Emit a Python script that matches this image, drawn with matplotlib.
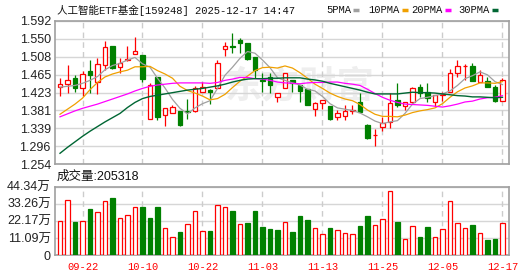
import matplotlib
matplotlib.use("Agg")
import matplotlib.pyplot as plt
from matplotlib.lines import Line2D

plt.rcParams['font.family'] = ['Liberation Sans', 'Noto Sans CJK SC']

# daily candles 2025-09-17 .. 2025-12-17
opens = [1.437, 1.443, 1.458, 1.435, 1.474, 1.449, 1.488, 1.533, 1.484, 1.499,
         1.513, 1.512, 1.360, 1.459, 1.370, 1.374, 1.379, 1.380, 1.380, 1.424,
         1.429, 1.433, 1.526, 1.534, 1.547, 1.539, 1.508, 1.454, 1.459, 1.413,
         1.433, 1.453, 1.441, 1.431, 1.384, 1.398, 1.392, 1.366, 1.368, 1.380,
         1.402, 1.347, 1.322, 1.341, 1.354, 1.406, 1.392, 1.402, 1.436, 1.424,
         1.400, 1.417, 1.425, 1.469, 1.485, 1.486, 1.447, 1.451, 1.437, 1.403]
highs = [1.457, 1.488, 1.465, 1.474, 1.500, 1.504, 1.545, 1.533, 1.504, 1.534,
         1.555, 1.512, 1.445, 1.461, 1.386, 1.393, 1.379, 1.407, 1.439, 1.449,
         1.432, 1.500, 1.543, 1.563, 1.553, 1.539, 1.508, 1.469, 1.470, 1.422,
         1.470, 1.453, 1.441, 1.431, 1.402, 1.406, 1.392, 1.382, 1.394, 1.394,
         1.421, 1.348, 1.337, 1.365, 1.421, 1.445, 1.401, 1.437, 1.443, 1.445,
         1.418, 1.425, 1.479, 1.500, 1.490, 1.492, 1.476, 1.461, 1.441, 1.457]
lows = [1.416, 1.421, 1.425, 1.416, 1.421, 1.419, 1.476, 1.478, 1.469, 1.498,
        1.513, 1.449, 1.360, 1.359, 1.344, 1.374, 1.345, 1.360, 1.377, 1.424,
        1.396, 1.433, 1.510, 1.516, 1.516, 1.500, 1.457, 1.425, 1.421, 1.402,
        1.433, 1.425, 1.402, 1.393, 1.368, 1.384, 1.358, 1.358, 1.358, 1.373,
        1.378, 1.313, 1.298, 1.333, 1.339, 1.390, 1.382, 1.398, 1.413, 1.402,
        1.390, 1.404, 1.425, 1.461, 1.453, 1.451, 1.447, 1.437, 1.400, 1.403]
closes = [1.443, 1.453, 1.433, 1.466, 1.465, 1.490, 1.531, 1.482, 1.494, 1.502,
          1.521, 1.455, 1.441, 1.366, 1.386, 1.389, 1.347, 1.378, 1.433, 1.436,
          1.424, 1.494, 1.532, 1.531, 1.539, 1.502, 1.476, 1.451, 1.441, 1.422,
          1.469, 1.445, 1.427, 1.394, 1.399, 1.406, 1.361, 1.376, 1.380, 1.382,
          1.378, 1.316, 1.324, 1.352, 1.399, 1.394, 1.400, 1.433, 1.421, 1.410,
          1.417, 1.419, 1.470, 1.486, 1.487, 1.451, 1.465, 1.437, 1.404, 1.454]
# volume in 万
volumes = [22.3, 35.7, 21.7, 22.1, 29.9, 27.9, 35.1, 37.2, 23.8, 26.0,
           31.0, 31.2, 24.0, 31.4, 17.3, 11.5, 14.9, 19.9, 28.6, 15.6,
           15.6, 32.3, 31.0, 28.6, 19.9, 20.8, 28.6, 18.4, 16.9, 16.2,
           21.2, 14.9, 25.3, 22.7, 17.3, 13.4, 17.5, 16.2, 14.1, 13.4,
           18.8, 25.3, 19.3, 23.2, 41.4, 21.4, 10.2, 18.6, 11.7, 18.2,
           11.5, 16.7, 35.1, 20.6, 17.3, 19.5, 14.1, 10.0, 10.4, 20.5318]

ma5 = [1.436, 1.438, 1.440, 1.445, 1.452, 1.461, 1.477, 1.487, 1.492, 1.500,
       1.506, 1.491, 1.483, 1.457, 1.434, 1.407, 1.386, 1.373, 1.387, 1.397,
       1.404, 1.433, 1.464, 1.483, 1.504, 1.520, 1.516, 1.500, 1.482, 1.458,
       1.452, 1.446, 1.441, 1.431, 1.427, 1.414, 1.397, 1.387, 1.384, 1.381,
       1.375, 1.366, 1.356, 1.350, 1.354, 1.357, 1.374, 1.396, 1.409, 1.412,
       1.416, 1.420, 1.427, 1.440, 1.456, 1.463, 1.472, 1.465, 1.449, 1.442]
ma10 = [1.372, 1.384, 1.396, 1.410, 1.430, 1.447, 1.460, 1.467, 1.472, 1.476,
        1.484, 1.484, 1.485, 1.475, 1.467, 1.457, 1.438, 1.428, 1.422, 1.415,
        1.406, 1.409, 1.419, 1.435, 1.450, 1.462, 1.475, 1.482, 1.483, 1.481,
        1.486, 1.481, 1.470, 1.457, 1.443, 1.433, 1.422, 1.414, 1.408, 1.404,
        1.395, 1.382, 1.372, 1.367, 1.367, 1.366, 1.370, 1.376, 1.380, 1.383,
        1.387, 1.397, 1.412, 1.425, 1.434, 1.439, 1.446, 1.446, 1.445, 1.449]
ma20 = [1.366, 1.373, 1.380, 1.386, 1.391, 1.396, 1.402, 1.408, 1.414, 1.420,
        1.427, 1.433, 1.438, 1.441, 1.443, 1.445, 1.446, 1.446, 1.446, 1.446,
        1.445, 1.447, 1.452, 1.455, 1.459, 1.459, 1.456, 1.455, 1.452, 1.448,
        1.446, 1.445, 1.444, 1.446, 1.447, 1.447, 1.448, 1.448, 1.445, 1.443,
        1.440, 1.431, 1.421, 1.412, 1.405, 1.400, 1.396, 1.395, 1.394, 1.393,
        1.391, 1.389, 1.392, 1.396, 1.401, 1.403, 1.408, 1.411, 1.412, 1.416]
ma30 = [1.280, 1.294, 1.307, 1.320, 1.332, 1.343, 1.354, 1.364, 1.374, 1.388,
        1.400, 1.409, 1.414, 1.417, 1.420, 1.423, 1.426, 1.429, 1.431, 1.433,
        1.436, 1.439, 1.443, 1.448, 1.452, 1.455, 1.456, 1.456, 1.457, 1.457,
        1.458, 1.458, 1.458, 1.455, 1.453, 1.450, 1.445, 1.441, 1.437, 1.433,
        1.429, 1.424, 1.420, 1.420, 1.420, 1.420, 1.422, 1.424, 1.423, 1.423,
        1.422, 1.420, 1.418, 1.416, 1.415, 1.413, 1.413, 1.412, 1.411, 1.412]

price_ticks = [1.254, 1.296, 1.339, 1.381, 1.423, 1.465, 1.508, 1.550, 1.592]
vol_ticks = [0, 11.09, 22.17, 33.26, 44.34]
date_pos = [3, 11, 19, 27, 35, 43, 51, 59]
date_labels = ['09-22', '10-10', '10-22', '11-03', '11-13', '11-25', '12-05', '12-17']

RED = '#ff0000'
GREEN = '#008000'
FRAME = '#a0a0a0'
GRID = '#d6d6d6'

W, H = 530, 276
fig = plt.figure(figsize=(W / 100, H / 100), dpi=100)

def px_axes(l, t, r, b):
    return fig.add_axes([l / W, 1 - b / H, (r - l) / W, (b - t) / H])

ax = px_axes(55, 21, 509, 164.3)
axv = px_axes(55, 186.7, 509, 255)

n = len(closes)
x = list(range(n))

# candles
up = [c >= o for o, c in zip(opens, closes)]
ccol = [RED if u else GREEN for u in up]
cface = ['white' if u else GREEN for u in up]
ax.vlines(x, lows, highs, colors=ccol, lw=0.9, zorder=3)
bottoms = [min(o, c) for o, c in zip(opens, closes)]
heights = [max(abs(c - o), 0.0012) for o, c in zip(opens, closes)]
ax.bar(x, heights, bottom=bottoms, width=0.66, color=cface, edgecolor=ccol,
       linewidth=0.9, zorder=4)

ax.plot(x, ma5, color='#a0a0a0', lw=0.9, zorder=5)
ax.plot(x, ma10, color='#f0a000', lw=0.9, zorder=5)
ax.plot(x, ma20, color='#ff00ff', lw=0.9, zorder=5)
ax.plot(x, ma30, color='#006633', lw=1.0, zorder=5)

ax.text(0.54, 0.54, '东方财富', transform=ax.transAxes, ha='center', va='center',
        fontsize=27, fontweight='bold', color='#eeeeee', zorder=0.2,
        family=['Noto Sans CJK SC'])

# volume, coloured against the previous close
vup = [closes[0] >= opens[0]] + [closes[i] >= closes[i - 1] for i in range(1, n)]
vcol = [RED if u else GREEN for u in vup]
vface = ['white' if u else GREEN for u in vup]
axv.bar(x, volumes, width=0.66, color=vface, edgecolor=vcol, linewidth=0.9, zorder=4)

for a in (ax, axv):
    a.set_xlim(-0.667, 59.87)
    for s in a.spines.values():
        s.set_color(FRAME)
        s.set_linewidth(1.2)
    a.yaxis.grid(True, color=GRID, lw=1)
    a.set_axisbelow(True)
    for p in date_pos:
        a.axvline(p, color='#cccccc', lw=1, ls=(0, (4, 3)), zorder=1)
    a.tick_params(length=0, labelsize=9, labelcolor='#222222', pad=3)

ax.set_ylim(1.254, 1.592)
ax.set_yticks(price_ticks)
ax.set_yticklabels(['%.3f' % t for t in price_ticks])
ax.set_xticks([])

axv.set_ylim(0, 44.34)
axv.set_yticks(vol_ticks)
axv.set_yticklabels(['0'] + ['%.2f万' % t for t in vol_ticks[1:]])
axv.set_xticks(date_pos)
axv.set_xticklabels(date_labels, color=RED, family=['Liberation Mono'], fontsize=7.5)
axv.tick_params(axis='x', pad=5)

fig.text(57 / W, 1 - 10 / H, '人工智能ETF基金[159248] 2025-12-17 14:47',
         family=['Liberation Mono', 'Noto Sans CJK SC'], fontsize=7.6,
         va='center', color='#111111')

legend = [('5PMA', 326, '#a0a0a0'), ('10PMA', 368, '#f0a000'),
          ('20PMA', 411, '#ff00ff'), ('30PMA', 458, '#006633')]
for name, lx, col in legend:
    t = fig.text(lx / W, 1 - 10 / H, name, family=['Liberation Mono'],
                 fontsize=7.6, va='center', color='#111111')
    dx = lx + len(name) * 6.3 + 2
    fig.add_artist(Line2D([dx / W, (dx + 6) / W], [1 - 10 / H, 1 - 10 / H],
                          color=col, lw=2.5, solid_capstyle='butt'))

fig.text(57 / W, 1 - 177 / H, '成交量:%d' % round(volumes[-1] * 10000),
         fontsize=9, va='center', color='#111111')

fig.savefig('out.png', dpi=100)
